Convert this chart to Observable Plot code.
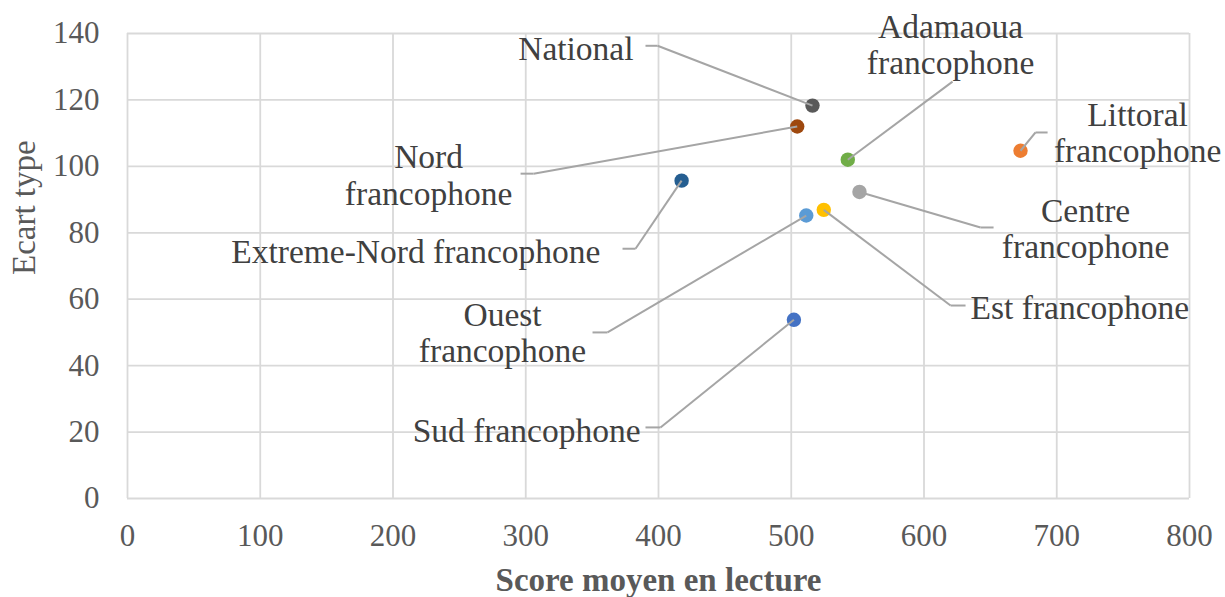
<!DOCTYPE html>
<html>
<head>
<meta charset="utf-8">
<script src="https://cdn.jsdelivr.net/npm/d3@7"></script>
<script src="https://cdn.jsdelivr.net/npm/@observablehq/plot@0.6"></script>
<style>
  body { margin: 0; background: #fff; }
  #chart svg { font-family: "Liberation Serif", "Times New Roman", serif; }
</style>
</head>
<body>
<div id="chart"></div>
<script>
// ---- data ----
const regions = ["National", "Nord francophone", "Adamaoua francophone", "Littoral francophone",
  "Extreme-Nord francophone", "Centre francophone", "Est francophone", "Ouest francophone", "Sud francophone"];
const labelTexts = ["National", "Nord\nfrancophone", "Adamaoua\nfrancophone", "Littoral\nfrancophone",
  "Extreme-Nord francophone", "Centre\nfrancophone", "Est francophone", "Ouest\nfrancophone", "Sud francophone"];
const scores = [516, 504.5, 542.6, 672.7, 417.4, 551.4, 524.5, 511.3, 502];
const ecarts = [118.3, 112.0, 102.0, 104.7, 95.7, 92.3, 86.9, 85.2, 53.8];
const colors = ["#595959", "#9E480E", "#70AD47", "#ED7D31", "#255E91", "#A5A5A5", "#FFC000", "#5B9BD5", "#4472C4"];
// label / leader-line anchors (data units)
const elbowX = [399.3, 305.9, 621.5, 684.0, 382.7, 642.6, 620.0, 361.6, 401.5];
const elbowY = [136.3, 97.8, 125.5, 110.2, 75.2, 81.6, 58.1, 50.0, 21.4];
const tailX  = [390.2, 296.1, 621.5, 693.1, 372.9, 652.4, 631.3, 350.3, 390.2];
const labelX = [381.2, 226.8, 620.0, 760.9, 356.3, 721.7, 635.1, 282.5, 386.5];
const labelY = [135.4, 97.4, 136.8, 110.3, 74.3, 81.4, 57.5, 50.1, 20.5];
const labelAnchor = ["end", "middle", "middle", "middle", "end", "middle", "start", "middle", "end"];
const xTicks = [0, 100, 200, 300, 400, 500, 600, 700, 800];
const yTicks = [0, 20, 40, 60, 80, 100, 120, 140];
const xTitle = "Score moyen en lecture";
const yTitle = "Ecart type";

const rows = regions.map((r, i) => ({
  region: r, label: labelTexts[i], x: scores[i], y: ecarts[i], color: colors[i],
  ex: elbowX[i], ey: elbowY[i], tx: tailX[i], lx: labelX[i], ly: labelY[i], anchor: labelAnchor[i]
}));

const textColor = "#404040";
const axisColor = "#595959";
const gridColor = "#D9D9D9";
const leaderColor = "#A5A5A5";

const labelMark = (anchor) => Plot.text(rows.filter(d => d.anchor === anchor), {
  x: "lx", y: "ly", text: "label", textAnchor: anchor, lineAnchor: "middle",
  fontSize: 33.5, lineHeight: 1.08, fill: textColor
});

const chart = Plot.plot({
  width: 1225,
  height: 597,
  marginLeft: 127,
  marginRight: 36,
  marginTop: 33,
  marginBottom: 99,
  x: { domain: [0, 800] },
  y: { domain: [0, 140] },
  marks: [
    Plot.gridX(xTicks, { stroke: gridColor, strokeOpacity: 1, strokeWidth: 1.8 }),
    Plot.gridY(yTicks, { stroke: gridColor, strokeOpacity: 1, strokeWidth: 1.8 }),
    Plot.axisX(xTicks, { tickSize: 0, tickPadding: 25, fontSize: 31, fill: axisColor, label: null }),
    Plot.axisY(yTicks, { tickSize: 0, tickPadding: 28, fontSize: 31, fill: axisColor, label: null }),
    Plot.dot(rows, { x: "x", y: "y", r: 7.2, fill: "color", stroke: "none" }),
    Plot.link(rows, { x1: "x", y1: "y", x2: "ex", y2: "ey", stroke: leaderColor, strokeWidth: 2 }),
    Plot.link(rows, { x1: "ex", y1: "ey", x2: "tx", y2: "ey", stroke: leaderColor, strokeWidth: 2 }),
    labelMark("start"),
    labelMark("middle"),
    labelMark("end"),
    Plot.text([xTitle], { frameAnchor: "bottom", lineAnchor: "middle", dy: 82, fontSize: 33,
      fontWeight: "bold", fill: axisColor }),
    Plot.text([yTitle], { frameAnchor: "left", lineAnchor: "middle", rotate: -90, dx: -103, dy: 9,
      fontSize: 33, fill: axisColor })
  ]
});
document.getElementById("chart").appendChild(chart);
</script>
</body>
</html>
